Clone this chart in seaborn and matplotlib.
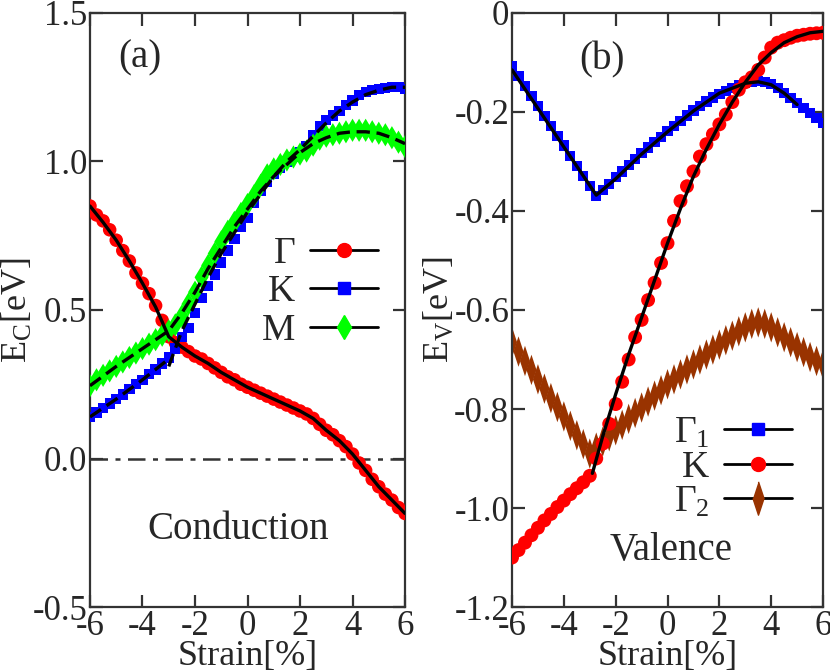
import numpy as np
import pandas as pd
import seaborn as sns
import matplotlib.pyplot as plt
from matplotlib.lines import Line2D

# strain grid of the computed points
strain = np.arange(-6, 6.01, 0.25)

# (a) conduction band edges [eV]
gam_c = [0.85, 0.82, 0.80, 0.77, 0.735, 0.70, 0.665, 0.625, 0.59, 0.555, 0.515, 0.465, 0.41,
         0.39, 0.375, 0.36, 0.345, 0.335, 0.32, 0.305, 0.29, 0.275, 0.265, 0.25, 0.24,
         0.23, 0.22, 0.21, 0.20, 0.19, 0.18, 0.17, 0.16, 0.15, 0.135, 0.115, 0.095,
         0.08, 0.06, 0.04, 0.015, -0.015, -0.04, -0.07, -0.095, -0.12, -0.14, -0.165, -0.185]
k_c = [0.14, 0.155, 0.17, 0.185, 0.20, 0.215, 0.235, 0.25, 0.265, 0.285, 0.30, 0.32, 0.34,
       0.37, 0.41, 0.44, 0.49, 0.54, 0.58, 0.62, 0.66, 0.70, 0.74, 0.78, 0.81,
       0.86, 0.90, 0.93, 0.96, 0.98, 1.00, 1.015, 1.03, 1.05, 1.09, 1.12, 1.14,
       1.155, 1.17, 1.19, 1.205, 1.225, 1.235, 1.24, 1.245, 1.248, 1.25, 1.25, 1.245]
m_c = [0.245, 0.265, 0.28, 0.295, 0.31, 0.325, 0.34, 0.355, 0.37, 0.385, 0.40, 0.415, 0.43,
       0.45, 0.48, 0.52, 0.56, 0.61, 0.65, 0.69, 0.73, 0.765, 0.795, 0.825, 0.855,
       0.885, 0.92, 0.955, 0.975, 0.99, 1.005, 1.015, 1.025, 1.035, 1.055, 1.075, 1.085,
       1.09, 1.095, 1.10, 1.105, 1.105, 1.105, 1.10, 1.095, 1.09, 1.08, 1.065, 1.05]

# (a) fitted curves
fit_x = np.arange(-6, 6.01, 0.5)
gam_c_fit = [0.85, 0.795, 0.735, 0.665, 0.59, 0.51, 0.41, 0.375, 0.345, 0.32, 0.29, 0.265, 0.24,
             0.22, 0.20, 0.18, 0.16, 0.135, 0.095, 0.06, 0.015, -0.04, -0.095, -0.14, -0.185]
k_c_fit1_x = [-6, -5, -4, -3]
k_c_fit1 = [0.14, 0.20, 0.265, 0.335]
k_c_fit2_x = np.arange(-3, 6.01, 0.5)
k_c_fit2 = [0.31, 0.43, 0.52, 0.61, 0.69, 0.76, 0.83, 0.89, 0.95, 1.0,
            1.04, 1.085, 1.13, 1.17, 1.20, 1.225, 1.24, 1.25, 1.25]
m_c_fit_x = [-6, -5, -4, -3, -2.5, -2, -1.5, -1, -0.5, 0, 0.5, 1, 1.5, 2, 2.5, 3, 3.5, 4, 4.5, 5, 5.5, 6]
m_c_fit = [0.245, 0.31, 0.37, 0.43, 0.49, 0.56, 0.64, 0.71, 0.78, 0.84, 0.90, 0.95, 0.99,
           1.03, 1.06, 1.08, 1.095, 1.10, 1.10, 1.095, 1.08, 1.06]

# (b) valence band edges [eV]
gam1_v = [-0.108, -0.128, -0.148, -0.168, -0.188, -0.208, -0.228, -0.248, -0.268, -0.289, -0.309,
          -0.329, -0.35, -0.37, -0.358, -0.345, -0.332, -0.32, -0.307, -0.295, -0.283, -0.272,
          -0.261, -0.25, -0.239, -0.228, -0.218, -0.207, -0.197, -0.188, -0.179, -0.171, -0.163,
          -0.157, -0.151, -0.146, -0.142, -0.139, -0.138, -0.14, -0.143, -0.152, -0.162, -0.172,
          -0.182, -0.192, -0.202, -0.212, -0.222]
k_v = [-1.10, -1.085, -1.07, -1.055, -1.04, -1.025, -1.012, -0.998, -0.985, -0.972, -0.96,
       -0.948, -0.935, -0.90, -0.87, -0.83, -0.79, -0.745, -0.70, -0.655, -0.62, -0.58,
       -0.545, -0.505, -0.465, -0.42, -0.38, -0.35, -0.32, -0.29, -0.265, -0.245, -0.225,
       -0.205, -0.18, -0.155, -0.14, -0.13, -0.115, -0.09, -0.07, -0.06, -0.055, -0.05,
       -0.046, -0.044, -0.042, -0.041, -0.04]
gam2_v = [-0.665, -0.684, -0.703, -0.721, -0.74, -0.759, -0.778, -0.796, -0.815, -0.834, -0.853,
          -0.871, -0.89, -0.878, -0.866, -0.855, -0.843, -0.832, -0.82, -0.808, -0.797, -0.785,
          -0.773, -0.762, -0.75, -0.74, -0.73, -0.72, -0.71, -0.70, -0.69, -0.68, -0.67,
          -0.661, -0.652, -0.643, -0.635, -0.628, -0.625, -0.628, -0.635, -0.645, -0.655, -0.665,
          -0.675, -0.685, -0.695, -0.703, -0.71]

# (b) fitted curves
gam1_v_fit_x = [-6, -2.75, -2, -1, 0, 1, 2, 3, 3.5, 4, 4.5, 5]
gam1_v_fit = [-0.115, -0.368, -0.335, -0.285, -0.24, -0.198, -0.162, -0.142, -0.139, -0.145, -0.162, -0.185]
k_v_fit_x = [-2.9, -2.5, -2, -1.5, -1, -0.5, 0, 0.5, 1, 1.5, 2, 2.5, 3, 3.5, 4, 4.5, 5, 5.5, 6]
k_v_fit = [-0.93, -0.855, -0.77, -0.69, -0.615, -0.54, -0.465, -0.395, -0.33, -0.275, -0.225,
           -0.18, -0.14, -0.105, -0.08, -0.06, -0.048, -0.04, -0.037]

sns.set_style("ticks")
plt.rcParams['font.family'] = 'serif'
plt.rcParams['font.serif'] = ['Liberation Serif', 'DejaVu Serif']
plt.rcParams['mathtext.fontset'] = 'custom'
plt.rcParams['mathtext.rm'] = 'Liberation Serif'
plt.rcParams['mathtext.it'] = 'Liberation Serif:italic'
plt.rcParams['axes.unicode_minus'] = False
plt.rcParams['axes.edgecolor'] = '#333333'
plt.rcParams['axes.linewidth'] = 1.6

RED, BLUE, GREEN, BROWN = '#ff0000', '#0000ff', '#00ff00', '#993300'
thin_diamond = [(0, 1), (0.33, 0), (0, -1), (-0.33, 0)]

fig = plt.figure(figsize=(8.3, 6.72), dpi=100)
ax1 = fig.add_axes([0.1084, 0.0967, 0.3796, 0.884])
ax2 = fig.add_axes([0.6169, 0.0967, 0.3747, 0.884])

# ---- panel (a)
ax1.axhline(0, color='#333333', lw=1.8, ls=(0, (7, 3, 2, 3)), zorder=1)
sns.scatterplot(x=strain, y=gam_c, ax=ax1, marker='o', s=95, color=RED, edgecolor='none', zorder=3)
sns.scatterplot(x=strain, y=k_c, ax=ax1, marker='s', s=55, color=BLUE, edgecolor='none', zorder=3)
sns.scatterplot(x=strain, y=m_c, ax=ax1, marker='d', s=140, color=GREEN, edgecolor='none', zorder=3)
sns.lineplot(x=fit_x, y=gam_c_fit, ax=ax1, color='black', lw=2.4, zorder=4, estimator=None, sort=False)
for fx, fy in [(k_c_fit1_x, k_c_fit1), (k_c_fit2_x, k_c_fit2), (m_c_fit_x, m_c_fit)]:
    sns.lineplot(x=fx, y=fy, ax=ax1, color='black', lw=2.4, ls=(0, (4, 2)), zorder=4,
                 estimator=None, sort=False)

ax1.set_xlim(-6, 6)
ax1.set_ylim(-0.5, 1.5)
ax1.set_yticks([-0.5, 0.0, 0.5, 1.0, 1.5])
ax1.set_yticklabels(['-0.5', '0.0', '0.5', '1.0', '1.5'])
ax1.set_ylabel(r'E$_\mathrm{C}$[eV]', fontsize=26, labelpad=-2)
ax1.text(-4.1, 1.35, '(a)', fontsize=28, ha='center', va='center')
ax1.text(-0.36, -0.24, 'Conduction', fontsize=28, ha='center', va='center')
h1 = [Line2D([], [], color='black', lw=2, marker='o', ms=10, mfc=RED, mec=RED),
      Line2D([], [], color='black', lw=2, marker='s', ms=8, mfc=BLUE, mec=BLUE),
      Line2D([], [], color='black', lw=2, marker='d', ms=12, mfc=GREEN, mec=GREEN)]
ax1.legend(h1, ['Γ', 'K', 'M'], loc='center', bbox_to_anchor=(0.73, 0.53), frameon=False,
           markerfirst=False, fontsize=27, handlelength=1.8, handletextpad=0.4, labelspacing=0.1)

# ---- panel (b)
sns.scatterplot(x=strain, y=gam2_v, ax=ax2, marker=thin_diamond, s=480, color=BROWN, edgecolor='none', zorder=2)
sns.scatterplot(x=strain, y=gam1_v, ax=ax2, marker='s', s=55, color=BLUE, edgecolor='none', zorder=3)
sns.scatterplot(x=strain, y=k_v, ax=ax2, marker='o', s=100, color=RED, edgecolor='none', zorder=3)
sns.lineplot(x=gam1_v_fit_x, y=gam1_v_fit, ax=ax2, color='black', lw=2.4, zorder=4, estimator=None, sort=False)
sns.lineplot(x=k_v_fit_x, y=k_v_fit, ax=ax2, color='black', lw=2.4, zorder=4, estimator=None, sort=False)

ax2.set_xlim(-6, 6)
ax2.set_ylim(-1.2, 0)
ax2.set_yticks([-1.2, -1.0, -0.8, -0.6, -0.4, -0.2, 0])
ax2.set_yticklabels(['-1.2', '-1.0', '-0.8', '-0.6', '-0.4', '-0.2', '0'])
ax2.set_ylabel(r'E$_\mathrm{V}$[eV]', fontsize=26, labelpad=-2)
ax2.text(-2.53, -0.095, '(b)', fontsize=28, ha='center', va='center')
ax2.text(0.13, -1.085, 'Valence', fontsize=28, ha='center', va='center')
h2 = [Line2D([], [], color='black', lw=2, marker='s', ms=8, mfc=BLUE, mec=BLUE),
      Line2D([], [], color='black', lw=2, marker='o', ms=10, mfc=RED, mec=RED),
      Line2D([], [], color='black', lw=2, marker=thin_diamond, ms=24, mfc=BROWN, mec=BROWN)]
ax2.legend(h2, ['Γ$_1$', 'K', 'Γ$_2$'], loc='center', bbox_to_anchor=(0.71, 0.235), frameon=False,
           markerfirst=False, fontsize=27, handlelength=1.8, handletextpad=0.4, labelspacing=0.0)

for ax in (ax1, ax2):
    ax.set_xticks([-6, -4, -2, 0, 2, 4, 6])
    ax.set_xlabel('Strain[%]', fontsize=26, labelpad=-2)
    ax.tick_params(direction='in', length=9, width=1.6, labelsize=25, top=True, right=True,
                   color='#333333', pad=2)
    for sp in ax.spines.values():
        sp.set_visible(True)

fig.savefig('out.png', dpi=100)
